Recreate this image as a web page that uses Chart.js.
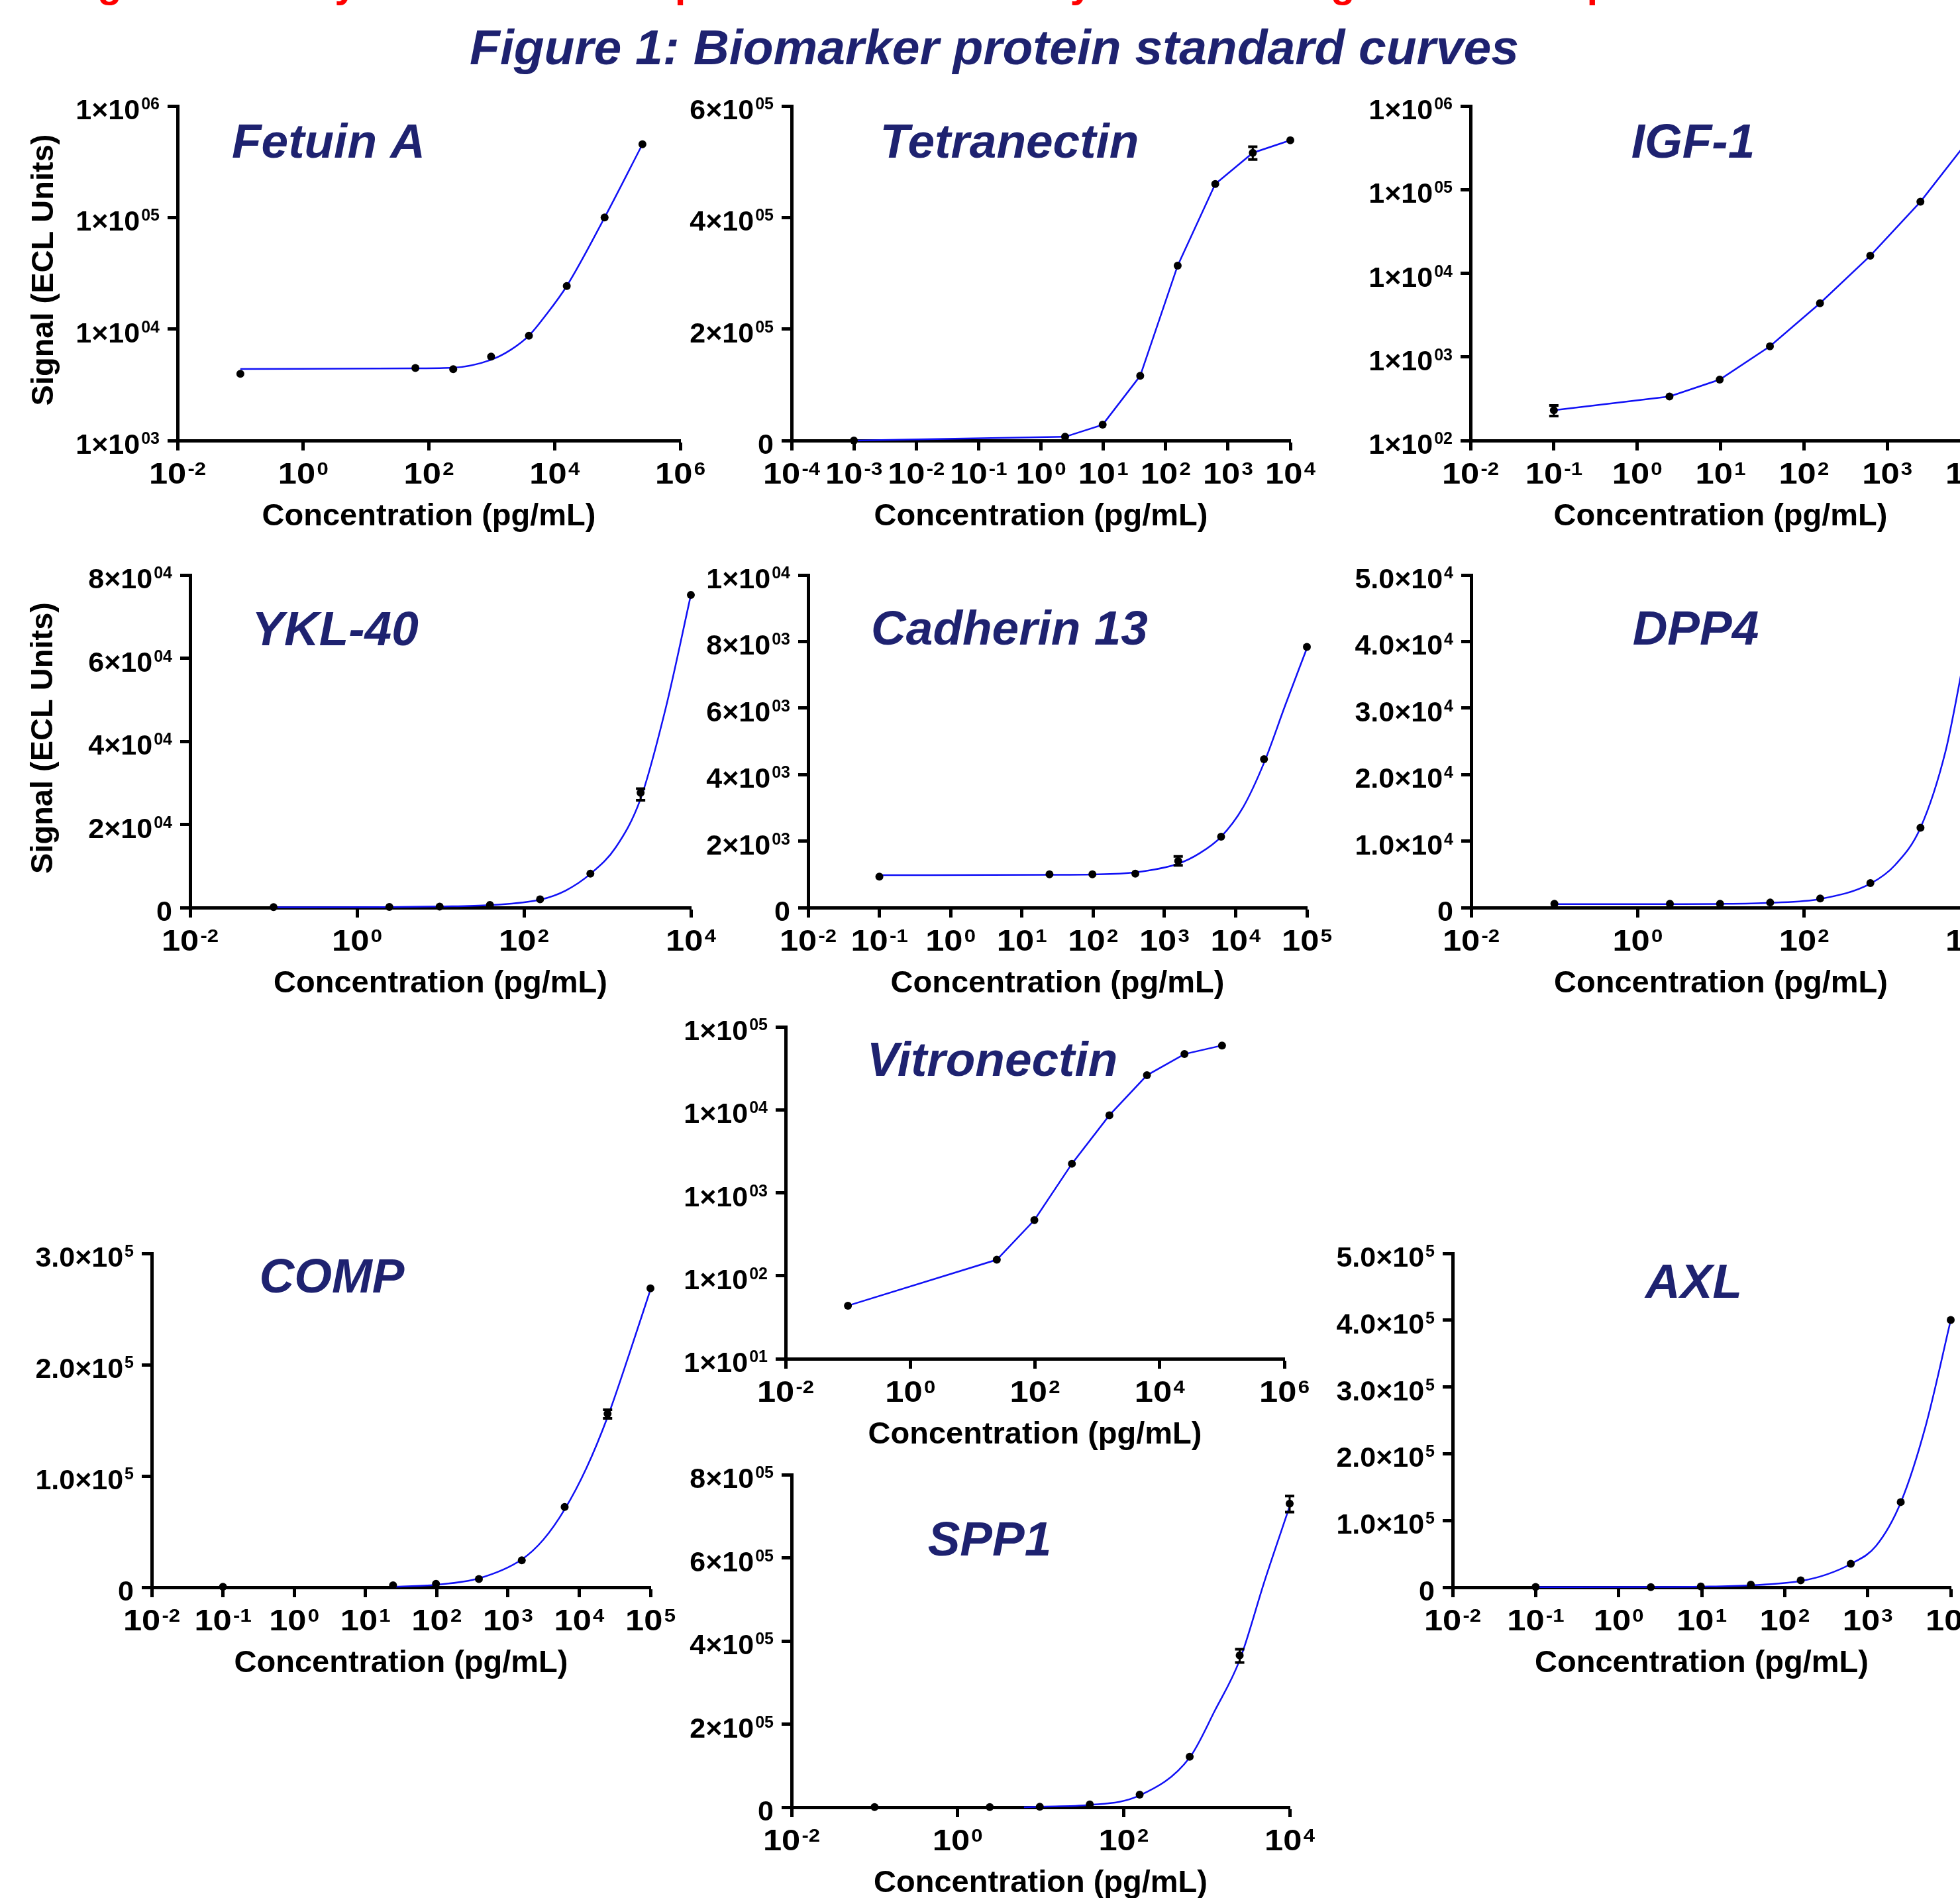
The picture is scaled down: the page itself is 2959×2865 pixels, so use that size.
<!DOCTYPE html>
<html>
<head>
<meta charset="utf-8">
<script src="https://cdn.jsdelivr.net/npm/chart.js@4.4.1/dist/chart.umd.min.js"></script>
<style>
  html, body { margin: 0; padding: 0; background: #fff; }
  body { width: 2959px; height: 2865px; overflow: hidden; position: relative; }
  canvas { position: absolute; }
  #redline { position: absolute; left: 94px; top: -54px; white-space: nowrap;
    font: bold 60px 'Liberation Sans', Arial, sans-serif; line-height: 60px; color: #ff0000; }
  #figtitle { position: absolute; left: 0; top: 34px; width: 3002px; text-align: center; white-space: nowrap;
    font: italic bold 75px 'Liberation Sans', Arial, sans-serif; line-height: 75px; color: #1e2270; }
</style>
</head>
<body>
<div id="redline">Figure 1: Assay results for each protein determined by the MSD single detection plates</div>
<div id="figtitle">Figure 1: Biomarker protein standard curves</div>
<script>
// ---- data (concentration in pg/mL, signal in ECL units) ----

// Fetuin A
const fetuinConc = [0.1, 61, 244, 977, 3906, 15625, 62500, 250000];
const fetuinSignal = [3970, 4470, 4370, 5670, 8720, 24300, 100000, 454000];
const fetuinFitX = [0.1, 61, 244, 977, 2000, 3906, 7240, 15625, 62500, 250000];
const fetuinFitY = [4380, 4440, 4500, 5300, 6500, 8720, 13300, 24300, 100000, 454000];
const fetuinXTicks = [1e-2, 1e0, 1e2, 1e4, 1e6];
const fetuinXLabels = ['10^-2', '10^0', '10^2', '10^4', '10^6'];
const fetuinYTicks = [1e3, 1e4, 1e5, 1e6];
const fetuinYLabels = ['1×10^03', '1×10^04', '1×10^05', '1×10^06'];

// Tetranectin (points joined by straight lines)
const tetraConc = [0.001, 2.44, 9.77, 39.1, 156, 625, 2500, 10000];
const tetraSignal = [0, 6700, 28400, 116000, 313700, 460000, 516000, 538500];
const tetraErrX = [2500];
const tetraErrLo = [504000];
const tetraErrHi = [527000];
const tetraXTicks = [1e-4, 1e-3, 1e-2, 1e-1, 1e0, 1e1, 1e2, 1e3, 1e4];
const tetraXLabels = ['10^-4', '10^-3', '10^-2', '10^-1', '10^0', '10^1', '10^2', '10^3', '10^4'];
const tetraYTicks = [0, 2e5, 4e5, 6e5];
const tetraYLabels = ['0', '2×10^05', '4×10^05', '6×10^05'];

// IGF-1 (points joined by straight lines)
const igfConc = [0.1, 2.44, 9.77, 39.1, 156, 625, 2500, 10000];
const igfSignal = [230, 336, 535, 1340, 4380, 16200, 71600, 420000];
const igfErrX = [0.1];
const igfErrLo = [196];
const igfErrHi = [263];
const igfXTicks = [1e-2, 1e-1, 1e0, 1e1, 1e2, 1e3, 1e4];
const igfXLabels = ['10^-2', '10^-1', '10^0', '10^1', '10^2', '10^3', '10^4'];
const igfYTicks = [1e2, 1e3, 1e4, 1e5, 1e6];
const igfYLabels = ['1×10^02', '1×10^03', '1×10^04', '1×10^05', '1×10^06'];

// YKL-40
const yklConc = [0.1, 2.44, 9.77, 39.1, 156, 625, 2500, 10000];
const yklSignal = [100, 150, 250, 640, 1990, 8170, 27600, 75200];
const yklFitX = [0.1, 2.44, 9.77, 39.1, 156, 316, 625, 1260, 2500, 5000, 10000];
const yklFitY = [60, 120, 260, 600, 1900, 4100, 8100, 14500, 26200, 48000, 75200];
const yklErrX = [2500];
const yklErrLo = [25800];
const yklErrHi = [28600];
const yklXTicks = [1e-2, 1e0, 1e2, 1e4];
const yklXLabels = ['10^-2', '10^0', '10^2', '10^4'];
const yklYTicks = [0, 2e4, 4e4, 6e4, 8e4];
const yklYLabels = ['0', '2×10^04', '4×10^04', '6×10^04', '8×10^04'];

// Cadherin 13
const cadConc = [0.1, 24.4, 97.7, 391, 1563, 6250, 25000, 100000];
const cadSignal = [930, 1000, 1000, 1020, 1400, 2130, 4460, 7840];
const cadFitX = [0.1, 24.4, 97.7, 391, 1563, 3160, 6250, 12600, 25000, 50000, 100000];
const cadFitY = [975, 985, 995, 1060, 1320, 1640, 2130, 3000, 4350, 6100, 7800];
const cadErrX = [1563];
const cadErrLo = [1270];
const cadErrHi = [1540];
const cadXTicks = [1e-2, 1e-1, 1e0, 1e1, 1e2, 1e3, 1e4, 1e5];
const cadXLabels = ['10^-2', '10^-1', '10^0', '10^1', '10^2', '10^3', '10^4', '10^5'];
const cadYTicks = [0, 2e3, 4e3, 6e3, 8e3, 1e4];
const cadYLabels = ['0', '2×10^03', '4×10^03', '6×10^03', '8×10^03', '1×10^04'];

// DPP4
const dppConc = [0.1, 2.44, 9.77, 39.1, 156, 625, 2500, 10000];
const dppSignal = [580, 580, 580, 760, 1380, 3690, 12000, 43000];
const dppFitX = [0.1, 2.44, 9.77, 39.1, 156, 625, 1260, 2500, 5000, 7400, 10000];
const dppFitY = [520, 530, 560, 730, 1300, 3600, 6500, 12000, 23500, 34000, 43000];
const dppXTicks = [1e-2, 1e0, 1e2, 1e4];
const dppXLabels = ['10^-2', '10^0', '10^2', '10^4'];
const dppYTicks = [0, 1e4, 2e4, 3e4, 4e4, 5e4];
const dppYLabels = ['0', '1.0×10^4', '2.0×10^4', '3.0×10^4', '4.0×10^4', '5.0×10^4'];

// COMP
const compConc = [0.1, 24.4, 97.7, 391, 1563, 6250, 25000, 100000];
const compSignal = [500, 1800, 3100, 7470, 24200, 72200, 155900, 268600];
const compFitX = [24.4, 97.7, 391, 1563, 3160, 6250, 12600, 25000, 50000, 100000];
const compFitY = [500, 2300, 8000, 25000, 43000, 70000, 107000, 153000, 209000, 267500];
const compErrX = [25000];
const compErrLo = [151800];
const compErrHi = [159500];
const compXTicks = [1e-2, 1e-1, 1e0, 1e1, 1e2, 1e3, 1e4, 1e5];
const compXLabels = ['10^-2', '10^-1', '10^0', '10^1', '10^2', '10^3', '10^4', '10^5'];
const compYTicks = [0, 1e5, 2e5, 3e5];
const compYLabels = ['0', '1.0×10^5', '2.0×10^5', '3.0×10^5'];

// Vitronectin (points joined by straight lines)
const vitroConc = [0.1, 24.4, 97.7, 391, 1563, 6250, 25000, 100000];
const vitroSignal = [43.6, 156, 468, 2240, 8610, 26100, 47000, 59600];
const vitroXTicks = [1e-2, 1e0, 1e2, 1e4, 1e6];
const vitroXLabels = ['10^-2', '10^0', '10^2', '10^4', '10^6'];
const vitroYTicks = [1e1, 1e2, 1e3, 1e4, 1e5];
const vitroYLabels = ['1×10^01', '1×10^02', '1×10^03', '1×10^04', '1×10^05'];

// AXL
const axlConc = [0.1, 2.44, 9.77, 39.1, 156, 625, 2500, 10000];
const axlSignal = [600, 300, 1200, 3900, 10300, 35200, 127600, 400300];
const axlFitX = [0.1, 2.44, 9.77, 39.1, 156, 316, 625, 1260, 2500, 5000, 10000];
const axlFitY = [300, 500, 1000, 3000, 9500, 19000, 35000, 62000, 127000, 242000, 400000];
const axlXTicks = [1e-2, 1e-1, 1e0, 1e1, 1e2, 1e3, 1e4];
const axlXLabels = ['10^-2', '10^-1', '10^0', '10^1', '10^2', '10^3', '10^4'];
const axlYTicks = [0, 1e5, 2e5, 3e5, 4e5, 5e5];
const axlYLabels = ['0', '1.0×10^5', '2.0×10^5', '3.0×10^5', '4.0×10^5', '5.0×10^5'];

// SPP1
const sppConc = [0.1, 2.44, 9.77, 39.1, 156, 625, 2500, 10000];
const sppSignal = [300, 300, 1350, 6760, 30400, 121700, 365200, 730300];
const sppFitX = [6.3, 9.77, 39.1, 156, 625, 1260, 2500, 5000, 10000];
const sppFitY = [0, 1300, 5400, 28400, 119700, 233000, 354000, 545000, 724000];
const sppErrX = [2500, 10000];
const sppErrLo = [348300, 710100];
const sppErrHi = [380000, 748600];
const sppXTicks = [1e-2, 1e0, 1e2, 1e4];
const sppXLabels = ['10^-2', '10^0', '10^2', '10^4'];
const sppYTicks = [0, 2e5, 4e5, 6e5, 8e5];
const sppYLabels = ['0', '2×10^05', '4×10^05', '6×10^05', '8×10^05'];

// ---- panel layout: axis box [left, top, right, bottom] and name position on the page ----
const panels = [
  { name: 'Fetuin A', conc: fetuinConc, signal: fetuinSignal, fitX: fetuinFitX, fitY: fetuinFitY,
    xTicks: fetuinXTicks, xLabels: fetuinXLabels, yType: 'logarithmic', yTicks: fetuinYTicks, yLabels: fetuinYLabels,
    box: [268, 160, 1027, 665], nameAt: [496, 238], yTitle: 188 },
  { name: 'Tetranectin', conc: tetraConc, signal: tetraSignal, straight: true,
    errX: tetraErrX, errLo: tetraErrLo, errHi: tetraErrHi,
    xTicks: tetraXTicks, xLabels: tetraXLabels, yType: 'linear', yTicks: tetraYTicks, yLabels: tetraYLabels,
    box: [1195, 160, 1948, 665], nameAt: [1524, 238] },
  { name: 'IGF-1', conc: igfConc, signal: igfSignal, straight: true,
    errX: igfErrX, errLo: igfErrLo, errHi: igfErrHi,
    xTicks: igfXTicks, xLabels: igfXLabels, yType: 'logarithmic', yTicks: igfYTicks, yLabels: igfYLabels,
    box: [2220, 160, 2975, 665], nameAt: [2556, 238] },
  { name: 'YKL-40', conc: yklConc, signal: yklSignal, fitX: yklFitX, fitY: yklFitY,
    errX: yklErrX, errLo: yklErrLo, errHi: yklErrHi,
    xTicks: yklXTicks, xLabels: yklXLabels, yType: 'linear', yTicks: yklYTicks, yLabels: yklYLabels,
    box: [287, 868, 1043, 1370], nameAt: [506, 974], yTitle: 208 },
  { name: 'Cadherin 13', conc: cadConc, signal: cadSignal, fitX: cadFitX, fitY: cadFitY,
    errX: cadErrX, errLo: cadErrLo, errHi: cadErrHi,
    xTicks: cadXTicks, xLabels: cadXLabels, yType: 'linear', yTicks: cadYTicks, yLabels: cadYLabels,
    box: [1220, 868, 1973, 1370], nameAt: [1524, 973] },
  { name: 'DPP4', conc: dppConc, signal: dppSignal, fitX: dppFitX, fitY: dppFitY,
    xTicks: dppXTicks, xLabels: dppXLabels, yType: 'linear', yTicks: dppYTicks, yLabels: dppYLabels,
    box: [2221, 868, 2975, 1370], nameAt: [2560, 973] },
  { name: 'COMP', conc: compConc, signal: compSignal, fitX: compFitX, fitY: compFitY,
    errX: compErrX, errLo: compErrLo, errHi: compErrHi,
    xTicks: compXTicks, xLabels: compXLabels, yType: 'linear', yTicks: compYTicks, yLabels: compYLabels,
    box: [229, 1892, 982, 2396], nameAt: [501, 1951] },
  { name: 'Vitronectin', conc: vitroConc, signal: vitroSignal, straight: true,
    xTicks: vitroXTicks, xLabels: vitroXLabels, yType: 'logarithmic', yTicks: vitroYTicks, yLabels: vitroYLabels,
    box: [1186, 1550, 1939, 2051], nameAt: [1498, 1624] },
  { name: 'AXL', conc: axlConc, signal: axlSignal, fitX: axlFitX, fitY: axlFitY,
    xTicks: axlXTicks, xLabels: axlXLabels, yType: 'linear', yTicks: axlYTicks, yLabels: axlYLabels,
    box: [2193, 1892, 2945, 2396], nameAt: [2557, 1959] },
  { name: 'SPP1', conc: sppConc, signal: sppSignal, fitX: sppFitX, fitY: sppFitY,
    errX: sppErrX, errLo: sppErrLo, errHi: sppErrHi,
    xTicks: sppXTicks, xLabels: sppXLabels, yType: 'linear', yTicks: sppYTicks, yLabels: sppYLabels,
    box: [1195, 2226, 1947, 2728], nameAt: [1494, 2348] }
];

const FONT = "'Liberation Sans', Arial, Helvetica, sans-serif";
const NAVY = '#1e2270';
const TICK = 15;
const PAD = { l: 290, t: 120, r: 50, b: 180 };
const X_LBL = { base: 'bold 44px ' + FONT, sup: 'bold 27px ' + FONT, stretch: 1.15, rise: -13.5, gap: 2 };
const Y_LBL = { base: 'bold 43px ' + FONT, sup: 'bold 25px ' + FONT, stretch: 1.0, rise: -15, gap: 2 };

// draw "10^-2" style text: base part and raised superscript
function drawSup(ctx, label, x, y, align, o) {
  const parts = label.split('^');
  const base = parts[0], sup = parts[1] || '';
  ctx.font = o.base;
  const wb = ctx.measureText(base).width;
  ctx.font = o.sup;
  const ws = sup ? ctx.measureText(sup).width + o.gap : 0;
  const total = (wb + ws) * o.stretch;
  const x0 = align === 'center' ? x - total / 2 : x - total;
  ctx.save();
  ctx.translate(x0, y);
  ctx.scale(o.stretch, 1);
  ctx.textAlign = 'left';
  ctx.font = o.base;
  ctx.fillText(base, 0, 0);
  if (sup) {
    ctx.font = o.sup;
    ctx.fillText(sup, wb + o.gap, o.rise);
  }
  ctx.restore();
}

const figLabels = {
  id: 'figLabels',
  afterDatasetsDraw(chart) {
    const p = chart.options.plugins.figLabels;
    if (!p.errX) return;
    const ctx = chart.ctx, xs = chart.scales.x, ys = chart.scales.y;
    ctx.save();
    ctx.strokeStyle = '#000';
    p.errX.forEach((v, i) => {
      const px = xs.getPixelForValue(v);
      const lo = ys.getPixelForValue(p.errLo[i]);
      const hi = ys.getPixelForValue(p.errHi[i]);
      ctx.lineWidth = 3;
      ctx.beginPath(); ctx.moveTo(px, lo); ctx.lineTo(px, hi); ctx.stroke();
      ctx.lineWidth = 4;
      ctx.beginPath();
      ctx.moveTo(px - 7, lo); ctx.lineTo(px + 7, lo);
      ctx.moveTo(px - 7, hi); ctx.lineTo(px + 7, hi);
      ctx.stroke();
    });
    ctx.restore();
  },
  afterDraw(chart) {
    const p = chart.options.plugins.figLabels;
    const ctx = chart.ctx, a = chart.chartArea, xs = chart.scales.x, ys = chart.scales.y;
    ctx.save();
    ctx.fillStyle = '#000';
    ctx.textBaseline = 'alphabetic';
    p.xTicks.forEach((v, i) => drawSup(ctx, p.xLabels[i], xs.getPixelForValue(v), a.bottom + 65, 'center', X_LBL));
    p.yTicks.forEach((v, i) => drawSup(ctx, p.yLabels[i], a.left - 27, ys.getPixelForValue(v) + 20, 'right', Y_LBL));
    ctx.font = 'bold 47px ' + FONT;
    ctx.textAlign = 'center';
    ctx.fillText('Concentration (pg/mL)', (a.left + a.right) / 2, a.bottom + 128);
    if (p.yTitle) {
      ctx.save();
      ctx.translate(a.left - p.yTitle, (a.top + a.bottom) / 2 - 5);
      ctx.rotate(-Math.PI / 2);
      ctx.fillText('Signal (ECL Units)', 0, 0);
      ctx.restore();
    }
    ctx.font = 'italic bold 73px ' + FONT;
    ctx.fillStyle = NAVY;
    ctx.fillText(p.name, p.nameX, p.nameY);
    ctx.restore();
  }
};

function axisOpts(type, ticks, position) {
  return {
    type: type,
    position: position,
    min: ticks[0],
    max: ticks[ticks.length - 1],
    afterBuildTicks: s => { s.ticks = ticks.map(v => ({ value: v })); },
    ticks: { display: false },
    grid: { display: true, drawOnChartArea: false, drawTicks: true, tickLength: TICK, tickWidth: 5, tickColor: '#000' },
    border: { display: true, width: 5, color: '#000' }
  };
}

panels.forEach(p => {
  const [L, T, R, B] = p.box;
  const cx = L - PAD.l, cy = T - PAD.t;
  const cv = document.createElement('canvas');
  cv.width = R - L + PAD.l + PAD.r;
  cv.height = B - T + PAD.t + PAD.b;
  cv.style.left = cx + 'px';
  cv.style.top = cy + 'px';
  document.body.appendChild(cv);

  const fx = p.straight ? p.conc : p.fitX;
  const fy = p.straight ? p.signal : p.fitY;

  new Chart(cv.getContext('2d'), {
    type: 'scatter',
    data: {
      datasets: [
        {
          label: p.name,
          data: p.conc.map((x, i) => ({ x: x, y: p.signal[i] })),
          backgroundColor: '#000',
          borderWidth: 0,
          pointRadius: 6,
          clip: false,
          order: 0
        },
        {
          type: 'line',
          label: p.name + ' fit',
          data: fx.map((x, i) => ({ x: x, y: fy[i] })),
          borderColor: '#1010f5',
          borderWidth: 2.5,
          pointRadius: 0,
          fill: false,
          tension: 0,
          cubicInterpolationMode: p.straight ? 'default' : 'monotone',
          clip: false,
          order: 1
        }
      ]
    },
    options: {
      responsive: false,
      animation: false,
      devicePixelRatio: 1,
      events: [],
      layout: { autoPadding: false, padding: { left: PAD.l - TICK, top: PAD.t, right: PAD.r, bottom: PAD.b - TICK } },
      scales: {
        x: axisOpts('logarithmic', p.xTicks, 'bottom'),
        y: axisOpts(p.yType, p.yTicks, 'left')
      },
      plugins: {
        legend: { display: false },
        tooltip: { enabled: false },
        figLabels: {
          name: p.name, nameX: p.nameAt[0] - cx, nameY: p.nameAt[1] - cy,
          xTicks: p.xTicks, xLabels: p.xLabels, yTicks: p.yTicks, yLabels: p.yLabels,
          errX: p.errX, errLo: p.errLo, errHi: p.errHi, yTitle: p.yTitle
        }
      }
    },
    plugins: [figLabels]
  });
});
</script>
</body>
</html>
